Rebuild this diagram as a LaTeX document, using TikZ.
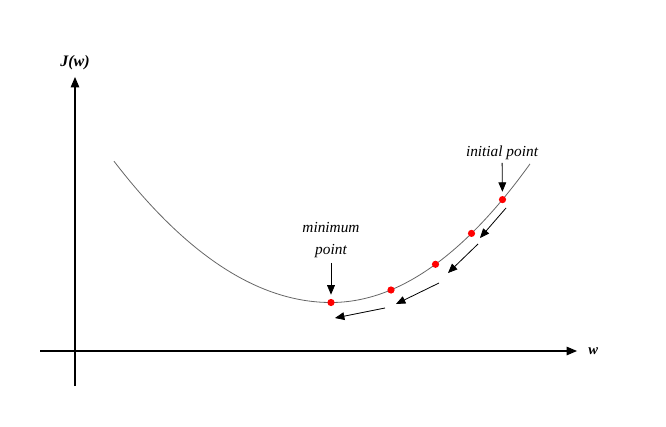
\documentclass[tikz,border=0pt]{standalone}
\usepackage{fontspec}
\setmainfont{Liberation Serif}
\usetikzlibrary{arrows}
\usetikzlibrary{positioning}
\tikzset{
    axis/.style={
           draw=black, line width=0.8pt,
           -triangle 45,
           },
}
\tikzset{
    dot/.style={
      circle,
           fill=red,
           inner sep=0pt,
           minimum size=5.4pt,
           },
}
\tikzset{
    lbl/.style={
           font=\itshape\fontsize{11.5}{16}\selectfont,
           inner sep=1pt,
           align=center,
           },
}
\tikzset{
    stepdown/.style={
           draw=black, line width=0.6pt,
           -triangle 45,
           },
}

\begin{document}
\begin{tikzpicture}[x=0.75pt,y=-0.75pt]
\useasboundingbox (0,0) rectangle (666,427);

% axes
\coordinate (o) at (75,351);
\coordinate (xl) at (40,351);
\coordinate (xr) at (577,351);
\coordinate (yb) at (75,386);
\coordinate (yt) at (75,77);
\draw[axis] (yb) -- (yt);
\draw[axis] (xl) -- (xr);
\node[font=\bfseries\itshape\fontsize{12}{14}\selectfont,above = 2pt of yt](jw){J(w)};
\node[font=\bfseries\itshape\fontsize{11}{13}\selectfont,right = 5pt of xr](w){w};

% cost curve
\draw[gray!80!black,line width=0.6pt]
  plot[domain=114:331,samples=60] (\x,{302.5-0.3*((\x-331)/10)^2})
  -- plot[domain=331:530,samples=60] (\x,{302.5-0.35*((\x-331)/10)^2});

% points on the curve
\node[dot](m) at (331,302.5){};
\node[dot](p1) at (391,290){};
\node[dot](p2) at (435.5,264.3){};
\node[dot](p3) at (471.5,233.4){};
\node[dot](p4) at (502.5,199.6){};

% labels
\node[lbl](init) at (502,153){initial point};
\node[lbl](min) at (331,240){minimum\\point};

\path (init) edge[stepdown,shorten <=1pt,shorten >=3pt](p4);
\path (min) edge[stepdown,shorten <=3pt,shorten >=3pt](m);

% descent steps
\coordinate (a1) at (506,208);
\coordinate (b1) at (480,238);
\coordinate (a2) at (478,244);
\coordinate (b2) at (448,273);
\coordinate (a3) at (439,283);
\coordinate (b3) at (396,304);
\coordinate (a4) at (385,308);
\coordinate (b4) at (335,318);
\path (a1) edge[stepdown](b1);
\path (a2) edge[stepdown](b2);
\path (a3) edge[stepdown](b3);
\path (a4) edge[stepdown](b4);

\end{tikzpicture}
\end{document}
